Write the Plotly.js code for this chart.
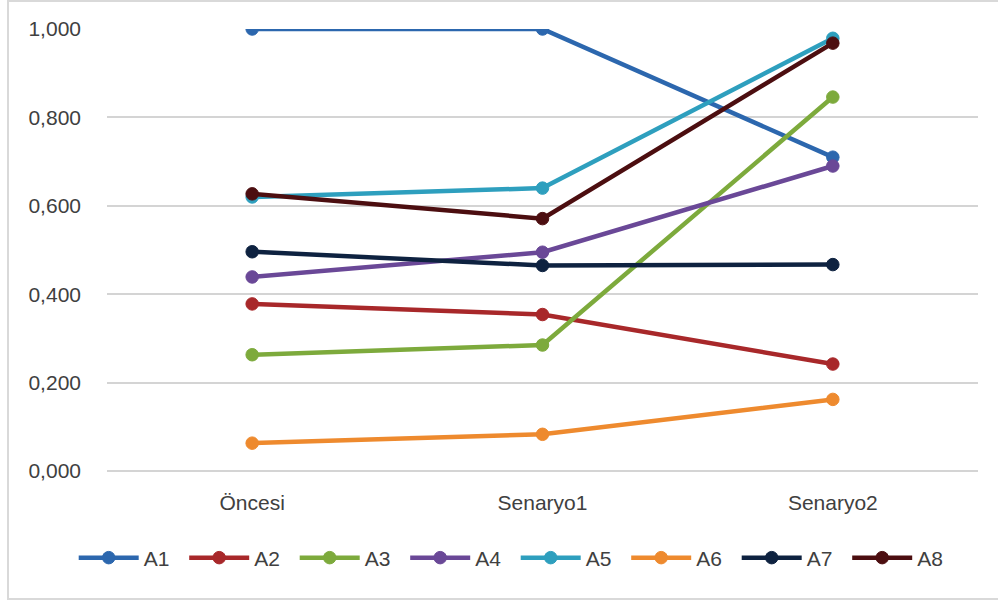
<!DOCTYPE html>
<html>
<head>
<meta charset="utf-8">
<script src="https://cdn.plot.ly/plotly-3.0.1.min.js"></script>
<style>
  html, body { margin: 0; padding: 0; background: #ffffff; }
  #wrap { position: relative; width: 998px; height: 603px; }
  #chart { position: absolute; left: 0; top: 0; width: 998px; height: 603px; }
  #frame { position: absolute; left: 7px; top: 0px; width: 1000px; height: 600px;
           border: 2px solid #d9d9d9; box-sizing: border-box; pointer-events: none; }
</style>
</head>
<body>
<div id="wrap">
  <div id="chart"></div>
  <div id="frame"></div>
</div>
<script>
// Scenario categories
const categories = ["Öncesi", "Senaryo1", "Senaryo2"];

// Scores per alternative
const A1 = [1.000, 1.000, 0.710];
const A2 = [0.378, 0.354, 0.242];
const A3 = [0.263, 0.285, 0.846];
const A4 = [0.439, 0.495, 0.690];
const A5 = [0.620, 0.640, 0.979];
const A6 = [0.063, 0.083, 0.162];
const A7 = [0.496, 0.465, 0.467];
const A8 = [0.627, 0.571, 0.968];

const seriesNames = ["A1", "A2", "A3", "A4", "A5", "A6", "A7", "A8"];
const seriesValues = [A1, A2, A3, A4, A5, A6, A7, A8];
const seriesColors = ["#2C67AE", "#A8282A", "#7DAA3C", "#6A4897",
                      "#2E9FBE", "#EE8A2E", "#0E2240", "#4C0E10"];

const yTicks = [0, 0.2, 0.4, 0.6, 0.8, 1.0];

// the legend row is split in two halves so the single row never wraps
const traces = seriesNames.map((name, i) => ({
  type: "scatter",
  mode: "lines+markers",
  name: name,
  x: categories,
  y: seriesValues[i],
  legend: i < 4 ? "legend" : "legend2",
  line: { color: seriesColors[i], width: 4.5 },
  marker: { color: seriesColors[i], size: 12.5, line: { color: seriesColors[i], width: 1 } }
}));

const legendFont = { family: "Liberation Sans, Arial, sans-serif", size: 21, color: "#404040" };

function legendAt(xPx) {
  return {
    orientation: "h",
    xref: "container",
    yref: "container",
    x: xPx / 998,
    xanchor: "left",
    y: 1 - 558 / 603,
    yanchor: "middle",
    itemwidth: 60,
    entrywidth: 35.5,
    entrywidthmode: "pixels",
    font: legendFont,
    bgcolor: "rgba(0,0,0,0)"
  };
}

const layout = {
  width: 998,
  height: 603,
  margin: { l: 107, r: 20, t: 29, b: 132 },
  paper_bgcolor: "#ffffff",
  plot_bgcolor: "#ffffff",
  separators: ",.",
  showlegend: true,
  font: { family: "Liberation Sans, Arial, sans-serif", color: "#404040", size: 20 },
  xaxis: {
    type: "category",
    range: [-0.5, 2.5],
    showgrid: false,
    zeroline: false,
    showline: false,
    ticks: "",
    ticklabelstandoff: 17,
    tickfont: { family: "Liberation Sans, Arial, sans-serif", size: 21, color: "#404040" }
  },
  yaxis: {
    range: [0, 1],
    tickvals: yTicks,
    tickformat: ".3f",
    showgrid: true,
    gridcolor: "#d4d4d4",
    gridwidth: 2,
    zeroline: true,
    zerolinecolor: "#d4d4d4",
    zerolinewidth: 2,
    showline: false,
    ticks: "",
    ticklabelstandoff: 25,
    tickfont: { family: "Liberation Sans, Arial, sans-serif", size: 21, color: "#404040" }
  },
  legend: legendAt(73.7),
  legend2: legendAt(515.7)
};

Plotly.newPlot("chart", traces, layout, { displayModeBar: false, staticPlot: true });
</script>
</body>
</html>
